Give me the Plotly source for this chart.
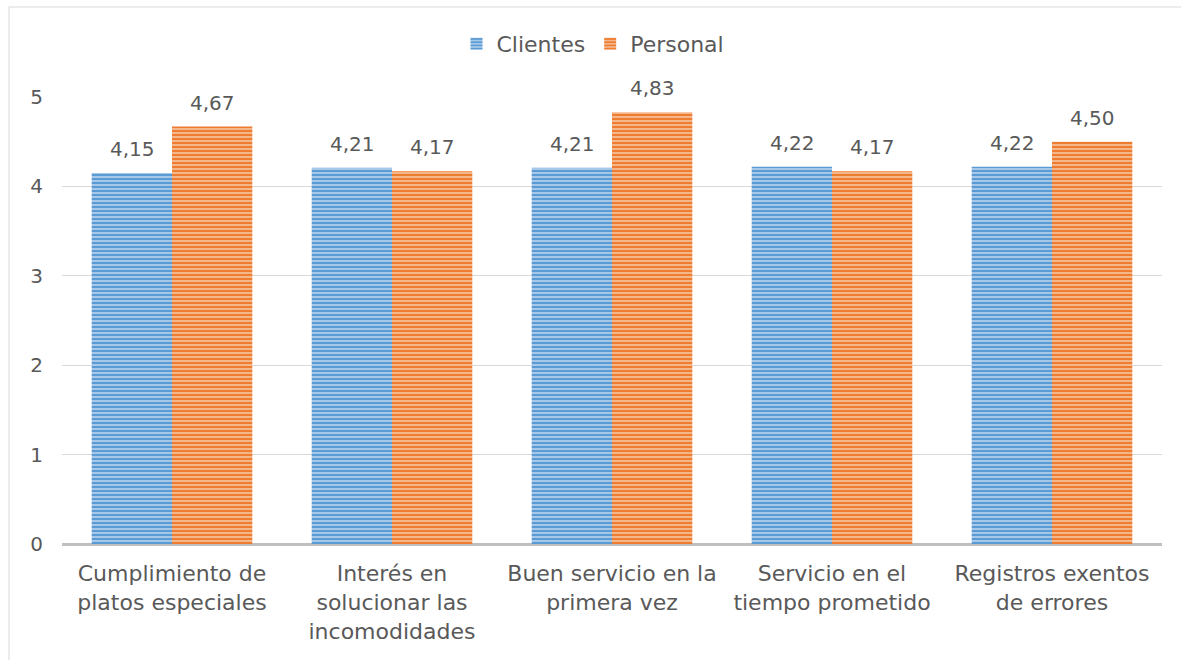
import plotly.graph_objects as go

categories = ["Cumplimiento de platos especiales",
              "Interés en solucionar las incomodidades",
              "Buen servicio en la primera vez",
              "Servicio en el tiempo prometido",
              "Registros exentos de errores"]
tick_labels = ["Cumplimiento de<br>platos especiales",
               "Interés en<br>solucionar las<br>incomodidades",
               "Buen servicio en la<br>primera vez",
               "Servicio en el<br>tiempo prometido",
               "Registros exentos<br>de errores"]
clientes = [4.15, 4.21, 4.21, 4.22, 4.22]
personal = [4.67, 4.17, 4.83, 4.17, 4.50]

FONT = "DejaVu Sans"
TXT = "#595959"
FS = 20

fig = go.Figure()
fig.add_trace(go.Bar(
    name="Clientes", x=categories, y=clientes,
    marker=dict(color="#5B9BD5", line=dict(width=0),
                pattern=dict(shape="-", fgcolor="#5B9BD5", bgcolor="#C5DBF1",
                             size=4, solidity=0.65, fgopacity=1, fillmode="replace"))))
fig.add_trace(go.Bar(
    name="Personal", x=categories, y=personal,
    marker=dict(color="#ED7D31", line=dict(width=0),
                pattern=dict(shape="-", fgcolor="#ED7D31", bgcolor="#F9CFB1",
                             size=4, solidity=0.65, fgopacity=1, fillmode="replace"))))

L, R, T, B = 62, 19, 97, 116
W = 1181 - L - R
H = 660 - T - B

annotations = []
for series, shift in ((clientes, -40), (personal, 40)):
    for c, v in zip(categories, series):
        annotations.append(dict(
            x=c, y=v, xref="x", yref="y", text=f"{v:.2f}".replace(".", ","),
            showarrow=False, xshift=shift, yshift=10, yanchor="bottom",
            font=dict(size=FS, color=TXT, family=FONT)))

fig.update_layout(
    width=1181, height=660,
    margin=dict(l=L, r=R, t=T, b=B),
    paper_bgcolor="white", plot_bgcolor="white",
    separators=",.",
    barmode="group", bargap=0.27, bargroupgap=0,
    font=dict(family=FONT, color=TXT, size=FS),
    legend=dict(orientation="h", x=(605 - 12 - L) / W, xanchor="center", y=(544 - 44) / H,
                yanchor="middle", font=dict(size=22, color=TXT, family=FONT),
                itemwidth=30, traceorder="normal"),
    xaxis=dict(tickmode="array", tickvals=categories, ticktext=tick_labels,
               showline=False, ticks="outside", ticklen=10, tickcolor="rgba(0,0,0,0)",
               tickfont=dict(size=22, color=TXT)),
    yaxis=dict(range=[0, 5], dtick=1, showgrid=True, gridcolor="#D9D9D9",
               gridwidth=1, zeroline=True, zerolinecolor="#BFBFBF", zerolinewidth=3,
               ticks="", ticklabelstandoff=18, tickfont=dict(size=FS, color=TXT),
               showline=False),
    annotations=annotations,
    shapes=[dict(type="rect", xref="paper", yref="paper",
                 x0=(9 - L) / W, x1=(1190 - L) / W,
                 y0=(544 - 670) / H, y1=(544 - 7) / H,
                 line=dict(color="#D9D9D9", width=1), layer="below")],
)

fig.write_html("out.html")
